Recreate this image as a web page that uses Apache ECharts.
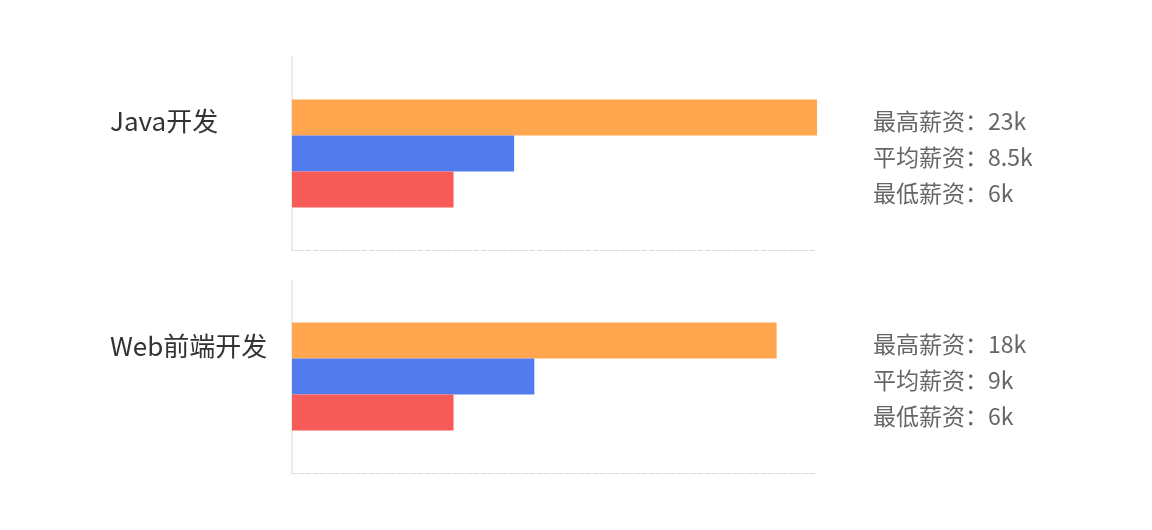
<!DOCTYPE html>
<html>
<head>
<meta charset="utf-8">
<script src="https://cdn.jsdelivr.net/npm/echarts@6/dist/echarts.min.js"></script>
<style>
html,body{margin:0;padding:0;background:#fff;}
#chart{width:1152px;height:530px;}
</style>
</head>
<body>
<div id="chart"></div>
<script>
// ---- data ----
const categories = ['Java开发', 'Web前端开发'];
const seriesNames = ['最高薪资', '平均薪资', '最低薪资'];
const maxSalary = [23, 18];
const avgSalary = [8.25, 9];
const minSalary = [6, 6];
const maxSalaryText = ['23k', '18k'];
const avgSalaryText = ['8.5k', '9k'];
const minSalaryText = ['6k', '6k'];
const xAxisMax = 19.5;

const colors = ['#FFA64E', '#527BEE', '#F65B58'];
const FONT = "'Noto Sans CJK SC', 'Noto Sans', sans-serif";

const chart = echarts.init(document.getElementById('chart'));

const gridTops = [57, 280];
const titleTops = [103, 328];
const grids = [], xAxes = [], yAxes = [], titles = [], series = [];

categories.forEach((cat, i) => {
  grids.push({ left: 292, right: 335, top: gridTops[i], height: 193, containLabel: false });
  xAxes.push({
    type: 'value', gridIndex: i, min: 0, max: xAxisMax,
    axisLine: { show: true, lineStyle: { color: '#dcdcdc', type: [5, 2], width: 1 } },
    axisTick: { show: false }, axisLabel: { show: false }, splitLine: { show: false }
  });
  yAxes.push({
    type: 'category', gridIndex: i, data: [cat], inverse: true,
    axisLine: { show: true, lineStyle: { color: '#e3e3e3', width: 1.5 } },
    axisTick: { show: false }, axisLabel: { show: false }
  });
  titles.push({
    text: cat, left: 105, top: titleTops[i],
    textStyle: { fontFamily: FONT, fontSize: 26, fontWeight: 'normal', color: '#333' }
  });
  const vals = [maxSalary[i], avgSalary[i], minSalary[i]];
  const texts = [maxSalaryText[i], avgSalaryText[i], minSalaryText[i]];
  vals.forEach((v, k) => {
    series.push({
      type: 'bar', name: seriesNames[k], xAxisIndex: i, yAxisIndex: i,
      data: [v], barWidth: 36, barGap: 0, clip: true,
      itemStyle: { color: colors[k] },
      label: {
        show: true, position: [581, 22], align: 'left', verticalAlign: 'middle',
        formatter: seriesNames[k] + '：' + texts[k],
        fontFamily: FONT, fontSize: 23, color: '#666'
      },
      silent: true, animation: false
    });
  });
});

chart.setOption({
  animation: false,
  title: titles,
  grid: grids,
  xAxis: xAxes,
  yAxis: yAxes,
  series: series
});
</script>
</body>
</html>
